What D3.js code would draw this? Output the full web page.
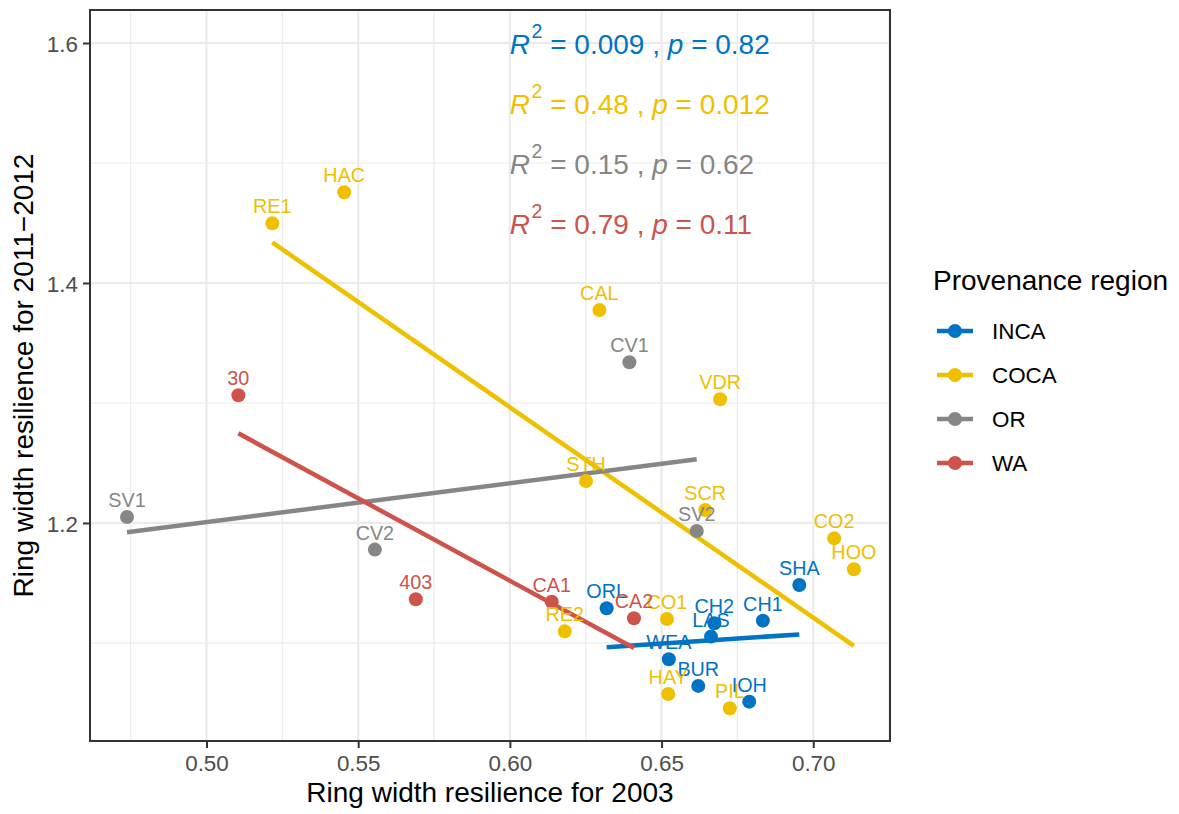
<!DOCTYPE html>
<html>
<head>
<meta charset="utf-8">
<script src="https://cdn.jsdelivr.net/npm/d3@7"></script>
<style>
  html, body { margin: 0; padding: 0; background: #fff; }
  svg { display: block; font-family: "Liberation Sans", Arial, Helvetica, sans-serif; }
</style>
</head>
<body>
<svg id="chart" width="1179" height="814"></svg>
<script>
// Provenance sites: resilience of ring width in 2003 vs 2011-2012
const sites   = ["ORL","CH2","CH1","LAS","WEA","BUR","IOH","SHA",
                 "HAC","RE1","CAL","VDR","STH","SCR","CO2","HOO","CO1","RE2","HAY","PIL",
                 "SV1","CV1","SV2","CV2",
                 "30","403","CA1","CA2"];
const rw2003  = [0.6319,0.6674,0.6834,0.6663,0.6524,0.6621,0.6789,0.6954,
                 0.5454,0.5217,0.6295,0.6693,0.6251,0.6644,0.7069,0.7134,0.6518,0.6181,0.6522,0.6725,
                 0.4738,0.6394,0.6616,0.5555,
                 0.5105,0.5690,0.6138,0.6409];
const rw2011  = [1.1289,1.1164,1.1186,1.1053,1.0864,1.0642,1.0511,1.1483,
                 1.4756,1.4497,1.3775,1.3031,1.2350,1.2108,1.1872,1.1614,1.1200,1.1097,1.0575,1.0456,
                 1.2050,1.3339,1.1933,1.1778,
                 1.3064,1.1364,1.1344,1.1206];
const region  = ["INCA","INCA","INCA","INCA","INCA","INCA","INCA","INCA",
                 "COCA","COCA","COCA","COCA","COCA","COCA","COCA","COCA","COCA","COCA","COCA","COCA",
                 "OR","OR","OR","OR",
                 "WA","WA","WA","WA"];

const regions   = ["INCA","COCA","OR","WA"];
const palette   = ["#0073C2","#EFC000","#868686","#CD534C"];
const r2Labels  = ["0.009","0.48","0.15","0.79"];
const pLabels   = ["0.82","0.012","0.62","0.11"];

const xTicks = [0.50,0.55,0.60,0.65,0.70];
const yTicks = [1.2,1.4,1.6];
const xMinor = [0.475,0.525,0.575,0.625,0.675,0.725];
const yMinor = [1.1,1.3,1.5];

const data = sites.map((s,i) => ({site:s, x:rw2003[i], y:rw2011[i], region:region[i]}));

const panel = {left: 90, top: 10, right: 890, bottom: 741};
const svg = d3.select("#chart");

const x = d3.scaleLinear().domain([0.4616, 0.7253]).range([panel.left, panel.right]);
const y = d3.scaleLinear().domain([1.0183, 1.6275]).range([panel.bottom, panel.top]);
const color = d3.scaleOrdinal().domain(regions).range(palette);

// panel background and grid
svg.append("rect").attr("x",0).attr("y",0).attr("width",1179).attr("height",814).attr("fill","#fff");
const grid = svg.append("g");
grid.selectAll(".vminor").data(xMinor.filter(v => x(v) < panel.right)).join("line")
  .attr("x1", d => x(d)).attr("x2", d => x(d)).attr("y1", panel.top).attr("y2", panel.bottom)
  .attr("stroke","#EBEBEB").attr("stroke-width",1.2);
grid.selectAll(".hminor").data(yMinor).join("line")
  .attr("y1", d => y(d)).attr("y2", d => y(d)).attr("x1", panel.left).attr("x2", panel.right)
  .attr("stroke","#EBEBEB").attr("stroke-width",1.2);
grid.selectAll(".vmajor").data(xTicks).join("line")
  .attr("x1", d => x(d)).attr("x2", d => x(d)).attr("y1", panel.top).attr("y2", panel.bottom)
  .attr("stroke","#EBEBEB").attr("stroke-width",2.2);
grid.selectAll(".hmajor").data(yTicks).join("line")
  .attr("y1", d => y(d)).attr("y2", d => y(d)).attr("x1", panel.left).attr("x2", panel.right)
  .attr("stroke","#EBEBEB").attr("stroke-width",2.2);

// least-squares fit per region, drawn over the group's x range
function fit(pts) {
  const mx = d3.mean(pts, d => d.x), my = d3.mean(pts, d => d.y);
  const sxy = d3.sum(pts, d => (d.x-mx)*(d.y-my));
  const sxx = d3.sum(pts, d => (d.x-mx)*(d.x-mx));
  const b = sxy/sxx, a = my - b*mx;
  const [x0, x1] = d3.extent(pts, d => d.x);
  return [{x:x0, y:a+b*x0}, {x:x1, y:a+b*x1}];
}
const lineGen = d3.line().x(d => x(d.x)).y(d => y(d.y));
const fits = svg.append("g");
regions.forEach(r => {
  fits.append("path")
    .attr("d", lineGen(fit(data.filter(d => d.region === r))))
    .attr("stroke", color(r)).attr("stroke-width", 4.5).attr("fill","none");
});

// points
svg.append("g").selectAll("circle").data(data).join("circle")
  .attr("cx", d => x(d.x)).attr("cy", d => y(d.y)).attr("r", 7)
  .attr("fill", d => color(d.region));

// site labels
svg.append("g").selectAll("text").data(data).join("text")
  .attr("x", d => x(d.x)).attr("y", d => y(d.y) - 10)
  .attr("text-anchor","middle").attr("font-size", 19.8)
  .attr("fill", d => color(d.region)).text(d => d.site);

// fit statistics
const stats = svg.append("g");
regions.forEach((r,i) => {
  const t = stats.append("text")
    .attr("x", x(0.60)).attr("y", 54 + i*60)
    .attr("font-size", 28).attr("fill", color(r));
  t.append("tspan").attr("font-style","italic").text("R");
  t.append("tspan").attr("dx", 1.5).attr("dy", -16).attr("font-size", 19.5).text("2");
  t.append("tspan").attr("dy", 16).text(" = " + r2Labels[i] + " , ");
  t.append("tspan").attr("font-style","italic").text("p");
  t.append("tspan").text(" = " + pLabels[i]);
});

// panel border
svg.append("rect").attr("x", panel.left).attr("y", panel.top)
  .attr("width", panel.right-panel.left).attr("height", panel.bottom-panel.top)
  .attr("fill","none").attr("stroke","#333333").attr("stroke-width",2);

// axes
const xAxis = svg.append("g").attr("transform", `translate(0,${panel.bottom})`)
  .call(d3.axisBottom(x).tickValues(xTicks).tickFormat(d3.format(".2f")).tickSize(7).tickPadding(6));
const yAxis = svg.append("g").attr("transform", `translate(${panel.left},0)`)
  .call(d3.axisLeft(y).tickValues(yTicks).tickFormat(d3.format(".1f")).tickSize(7).tickPadding(5));
[xAxis, yAxis].forEach(a => {
  a.select(".domain").remove();
  a.selectAll(".tick line").attr("stroke","#333333").attr("stroke-width",2);
  a.selectAll(".tick text").attr("fill","#4D4D4D").attr("font-size",22.4)
    .attr("font-family", '"Liberation Sans", Arial, Helvetica, sans-serif');
});
xAxis.selectAll(".tick text").attr("dy", null).attr("y", 30);
yAxis.selectAll(".tick text").attr("dy", "0.36em");

// axis titles
svg.append("text").attr("x", (panel.left+panel.right)/2).attr("y", 802)
  .attr("text-anchor","middle").attr("font-size",28).attr("fill","#000")
  .text("Ring width resilience for 2003");
svg.append("text")
  .attr("transform", `translate(33,${(panel.top+panel.bottom)/2}) rotate(-90)`)
  .attr("text-anchor","middle").attr("font-size",28).attr("fill","#000")
  .text("Ring width resilience for 2011\u22122012");

// legend
const legend = svg.append("g");
legend.append("text").attr("x", 933).attr("y", 290).attr("font-size",28).attr("fill","#000")
  .text("Provenance region");
const items = legend.selectAll("g.item").data(regions).join("g")
  .attr("transform", (d,i) => `translate(0,${331 + i*44})`);
items.append("line").attr("x1", 937).attr("x2", 973).attr("y1",0).attr("y2",0)
  .attr("stroke", d => color(d)).attr("stroke-width",4.5);
items.append("circle").attr("cx",955).attr("cy",0).attr("r",7).attr("fill", d => color(d));
items.append("text").attr("x", 992).attr("y",0).attr("dy","0.36em").attr("font-size",22.4)
  .attr("fill","#000").text(d => d);
</script>
</body>
</html>
